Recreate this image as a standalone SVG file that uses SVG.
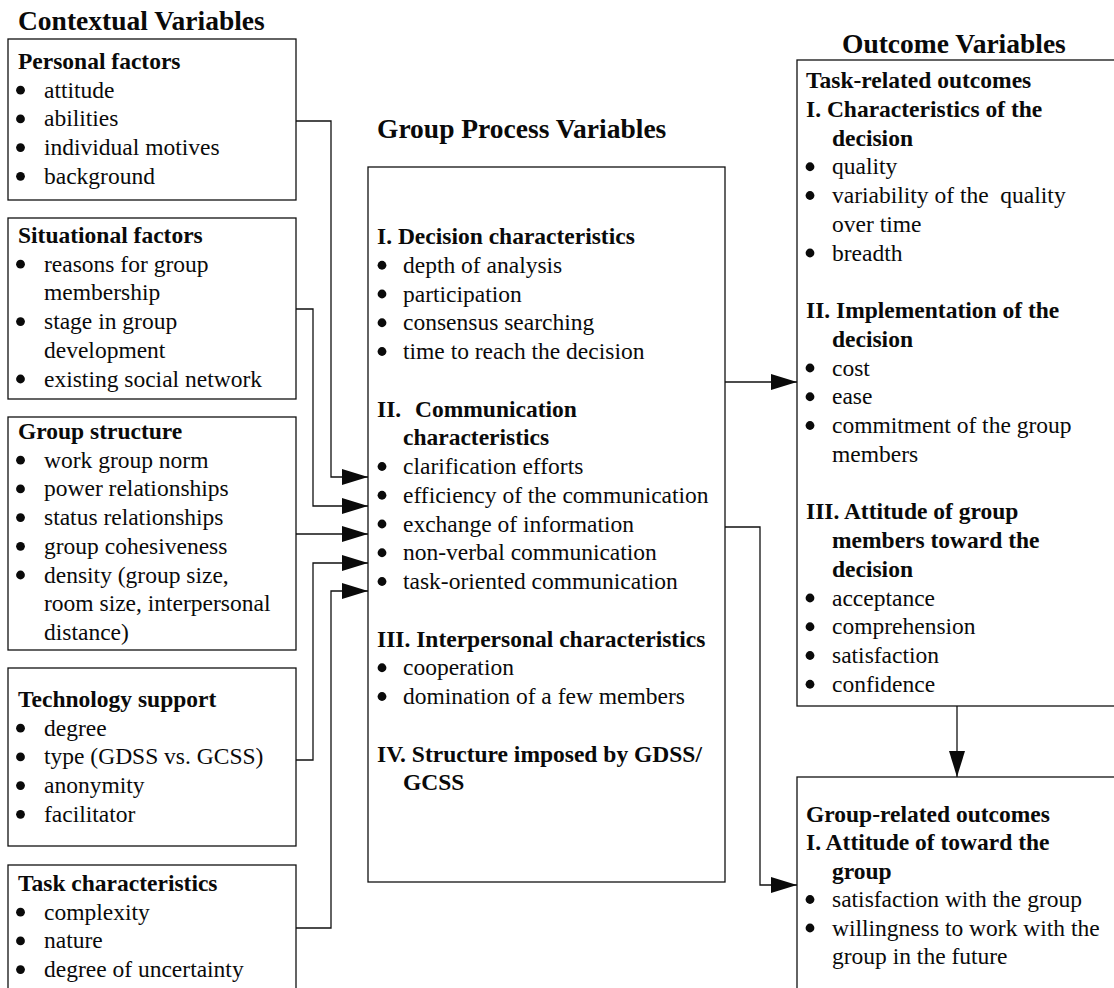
<svg xmlns="http://www.w3.org/2000/svg" width="1114" height="988" viewBox="0 0 1114 988">
  <defs>
    <style>
      text { font-family: "Liberation Serif", "Times New Roman", serif; fill: #0a0a0a; }
      .title { font-size: 27.5px; font-weight: bold; }
      .hd { font-size: 23.5px; font-weight: bold; }
      .it { font-size: 23.5px; }
      .box { fill: #fff; stroke: #111; stroke-width: 1.3; }
      .dot { fill: #0a0a0a; }
      .wire { fill: none; stroke: #111; stroke-width: 1.3; }
    </style>
    <marker id="tip" viewBox="0 0 26 16" markerWidth="26" markerHeight="16" refX="26" refY="8" orient="auto" markerUnits="userSpaceOnUse">
      <path d="M0,0 L26,8 L0,16 z" fill="#0a0a0a"/>
    </marker>
    <circle id="b" r="4.4" class="dot"/>
  </defs>

  <rect width="1114" height="988" fill="#fff"/>

  <!-- column titles -->
  <text class="title" x="18" y="30">Contextual Variables</text>
  <text class="title" x="377" y="138">Group Process Variables</text>
  <text class="title" x="842" y="53">Outcome Variables</text>

  <!-- contextual variables -->
  <g id="personal-factors">
    <rect class="box" x="8" y="39" width="288" height="161"/>
    <text class="hd" x="18" y="69">Personal factors</text>
    <use href="#b" x="20.5" y="90.2"/><text class="it" x="44" y="97.7">attitude</text>
    <use href="#b" x="20.5" y="118.9"/><text class="it" x="44" y="126.4">abilities</text>
    <use href="#b" x="20.5" y="147.6"/><text class="it" x="44" y="155.1">individual motives</text>
    <use href="#b" x="20.5" y="176.3"/><text class="it" x="44" y="183.8">background</text>
  </g>

  <g id="situational-factors">
    <rect class="box" x="8" y="218" width="288" height="181"/>
    <text class="hd" x="18" y="243">Situational factors</text>
    <use href="#b" x="20.5" y="264.2"/><text class="it" x="44" y="271.7">reasons for group</text>
    <text class="it" x="44" y="300.4">membership</text>
    <use href="#b" x="20.5" y="321.6"/><text class="it" x="44" y="329.1">stage in group</text>
    <text class="it" x="44" y="357.8">development</text>
    <use href="#b" x="20.5" y="379"/><text class="it" x="44" y="386.5">existing social network</text>
  </g>

  <g id="group-structure">
    <rect class="box" x="8" y="417" width="288" height="233"/>
    <text class="hd" x="18" y="439">Group structure</text>
    <use href="#b" x="20.5" y="460.2"/><text class="it" x="44" y="467.7">work group norm</text>
    <use href="#b" x="20.5" y="488.9"/><text class="it" x="44" y="496.4">power relationships</text>
    <use href="#b" x="20.5" y="517.6"/><text class="it" x="44" y="525.1">status relationships</text>
    <use href="#b" x="20.5" y="546.3"/><text class="it" x="44" y="553.8">group cohesiveness</text>
    <use href="#b" x="20.5" y="575"/><text class="it" x="44" y="582.5">density (group size,</text>
    <text class="it" x="44" y="611.2">room size, interpersonal</text>
    <text class="it" x="44" y="639.9">distance)</text>
  </g>

  <g id="technology-support">
    <rect class="box" x="8" y="668" width="288" height="178"/>
    <text class="hd" x="18" y="707">Technology support</text>
    <use href="#b" x="20.5" y="728.2"/><text class="it" x="44" y="735.7">degree</text>
    <use href="#b" x="20.5" y="756.9"/><text class="it" x="44" y="764.4">type (GDSS vs. GCSS)</text>
    <use href="#b" x="20.5" y="785.6"/><text class="it" x="44" y="793.1">anonymity</text>
    <use href="#b" x="20.5" y="814.3"/><text class="it" x="44" y="821.8">facilitator</text>
  </g>

  <g id="task-characteristics">
    <rect class="box" x="8" y="865" width="288" height="140"/>
    <text class="hd" x="18" y="891">Task characteristics</text>
    <use href="#b" x="20.5" y="912.2"/><text class="it" x="44" y="919.7">complexity</text>
    <use href="#b" x="20.5" y="940.9"/><text class="it" x="44" y="948.4">nature</text>
    <use href="#b" x="20.5" y="969.6"/><text class="it" x="44" y="977.1">degree of uncertainty</text>
  </g>

  <!-- group process variables -->
  <g id="group-process">
    <rect class="box" x="368" y="167" width="357" height="715"/>
    <text class="hd" x="377" y="244">I. Decision characteristics</text>
    <use href="#b" x="382" y="265.25"/><text class="it" x="403" y="272.75">depth of analysis</text>
    <use href="#b" x="382" y="294"/><text class="it" x="403" y="301.5">participation</text>
    <use href="#b" x="382" y="322.75"/><text class="it" x="403" y="330.25">consensus searching</text>
    <use href="#b" x="382" y="351.5"/><text class="it" x="403" y="359">time to reach the decision</text>
    <text class="hd" x="377" y="416.5">II.<tspan x="415">Communication</tspan></text>
    <text class="hd" x="403" y="445.25">characteristics</text>
    <use href="#b" x="382" y="466.5"/><text class="it" x="403" y="474">clarification efforts</text>
    <use href="#b" x="382" y="495.25"/><text class="it" x="403" y="502.75">efficiency of the communication</text>
    <use href="#b" x="382" y="524"/><text class="it" x="403" y="531.5">exchange of information</text>
    <use href="#b" x="382" y="552.75"/><text class="it" x="403" y="560.25">non-verbal communication</text>
    <use href="#b" x="382" y="581.5"/><text class="it" x="403" y="589">task-oriented communication</text>
    <text class="hd" x="377" y="646.5">III. Interpersonal characteristics</text>
    <use href="#b" x="382" y="667.75"/><text class="it" x="403" y="675.25">cooperation</text>
    <use href="#b" x="382" y="696.5"/><text class="it" x="403" y="704">domination of a few members</text>
    <text class="hd" x="377" y="761.5">IV. Structure imposed by GDSS/</text>
    <text class="hd" x="403" y="790.25">GCSS</text>
  </g>

  <!-- outcome variables -->
  <g id="task-outcomes">
    <rect class="box" x="797" y="60" width="330" height="646"/>
    <text class="hd" x="806" y="88">Task-related outcomes</text>
    <text class="hd" x="806" y="116.75">I. Characteristics of the</text>
    <text class="hd" x="832" y="145.5">decision</text>
    <use href="#b" x="810" y="166.75"/><text class="it" x="832" y="174.25">quality</text>
    <use href="#b" x="810" y="195.5"/><text class="it" x="832" y="203" xml:space="preserve">variability of the  quality</text>
    <text class="it" x="832" y="231.75">over time</text>
    <use href="#b" x="810" y="253"/><text class="it" x="832" y="260.5">breadth</text>
    <text class="hd" x="806" y="318">II. Implementation of the</text>
    <text class="hd" x="832" y="346.75">decision</text>
    <use href="#b" x="810" y="368"/><text class="it" x="832" y="375.5">cost</text>
    <use href="#b" x="810" y="396.75"/><text class="it" x="832" y="404.25">ease</text>
    <use href="#b" x="810" y="425.5"/><text class="it" x="832" y="433">commitment of the group</text>
    <text class="it" x="832" y="461.75">members</text>
    <text class="hd" x="806" y="519.25">III. Attitude of group</text>
    <text class="hd" x="832" y="548">members toward the</text>
    <text class="hd" x="832" y="576.75">decision</text>
    <use href="#b" x="810" y="598"/><text class="it" x="832" y="605.5">acceptance</text>
    <use href="#b" x="810" y="626.75"/><text class="it" x="832" y="634.25">comprehension</text>
    <use href="#b" x="810" y="655.5"/><text class="it" x="832" y="663">satisfaction</text>
    <use href="#b" x="810" y="684.25"/><text class="it" x="832" y="691.75">confidence</text>
  </g>

  <g id="group-outcomes">
    <rect class="box" x="797" y="777" width="330" height="230"/>
    <text class="hd" x="806" y="821.5">Group-related outcomes</text>
    <text class="hd" x="806" y="850">I. Attitude of toward the</text>
    <text class="hd" x="832" y="878.5">group</text>
    <use href="#b" x="810" y="899.5"/><text class="it" x="832" y="907">satisfaction with the group</text>
    <use href="#b" x="810" y="928"/><text class="it" x="832" y="935.5">willingness to work with the</text>
    <text class="it" x="832" y="964">group in the future</text>
  </g>

  <!-- connectors -->
  <g id="connectors" class="wire">
    <path d="M296,121 H331 V477 H368" marker-end="url(#tip)"/>
    <path d="M296,309 H313 V506 H368" marker-end="url(#tip)"/>
    <path d="M296,534 H368" marker-end="url(#tip)"/>
    <path d="M296,760 H313 V563 H368" marker-end="url(#tip)"/>
    <path d="M296,928 H331 V591 H368" marker-end="url(#tip)"/>
    <path d="M725,382 H797" marker-end="url(#tip)"/>
    <path d="M725,527 H760 V885 H797" marker-end="url(#tip)"/>
    <path d="M957,706 V777" marker-end="url(#tip)"/>
  </g>
</svg>
